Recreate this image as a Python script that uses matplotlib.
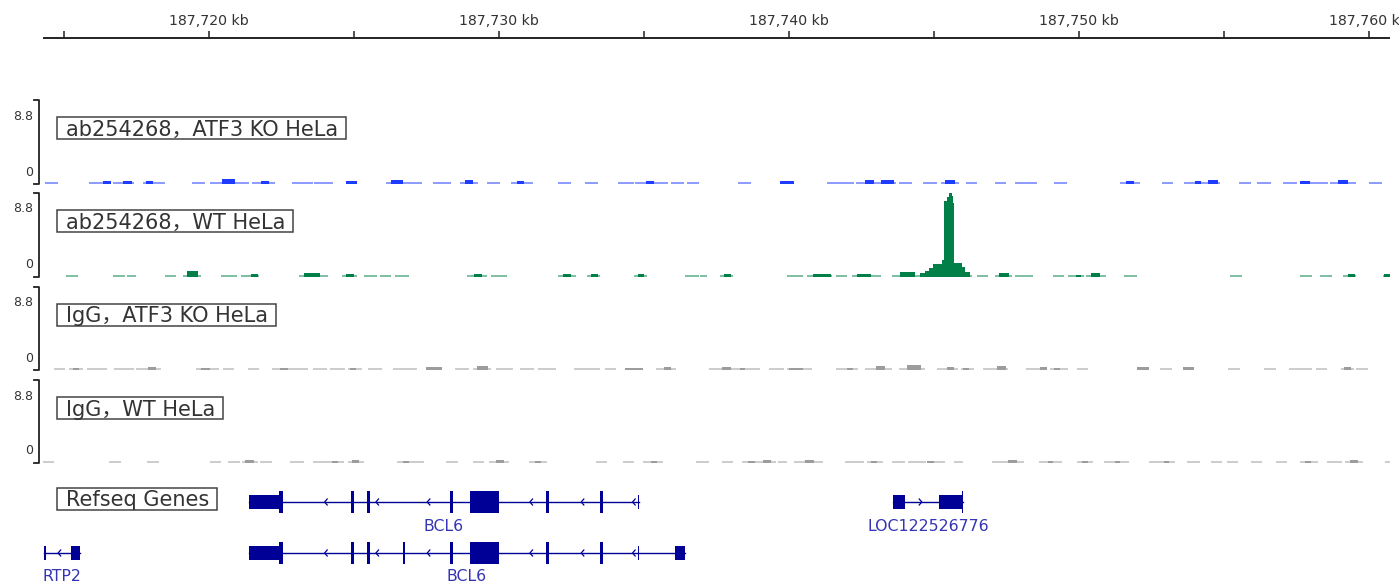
import numpy as np
import matplotlib
matplotlib.use("Agg")
import matplotlib.pyplot as plt
from matplotlib.patches import Rectangle

plt.rcParams['font.family'] = ['DejaVu Sans', 'Noto Sans CJK SC']

W, H = 1399, 587

# locus on screen, kb
VIEW_START, VIEW_END = 187714.29, 187760.74
TRACK_MAX = 8.8

track_names = ['ab254268，ATF3 KO HeLa', 'ab254268，WT HeLa',
               'IgG，ATF3 KO HeLa', 'IgG，WT HeLa']
track_colors = ['#1e3cff', '#008048', '#9c9c9c', '#9c9c9c']

# ---- coverage, (start kb, end kb) low level pieces and (start, end, value) bumps
ko_dash = [(187714.35, 187714.81), (187715.88, 187716.62), (187716.72, 187717.43),
           (187717.74, 187718.50), (187719.43, 187719.88), (187720.05, 187721.40),
           (187721.50, 187722.28), (187722.88, 187723.59), (187723.62, 187724.28),
           (187724.74, 187725.12), (187726.12, 187727.36), (187727.74, 187728.36),
           (187728.67, 187729.29), (187729.60, 187730.05), (187730.43, 187731.19),
           (187732.05, 187732.50), (187732.98, 187733.43), (187734.12, 187734.67),
           (187734.72, 187735.20), (187735.30, 187735.85), (187735.95, 187736.40),
           (187736.50, 187736.91), (187738.26, 187738.71), (187739.69, 187740.19),
           (187741.33, 187742.26), (187742.33, 187743.71), (187743.81, 187744.26),
           (187744.64, 187745.12), (187745.26, 187745.88), (187746.12, 187746.50),
           (187747.12, 187747.50), (187747.81, 187748.57), (187749.16, 187749.60),
           (187751.43, 187752.12), (187752.88, 187753.26), (187753.64, 187754.88),
           (187755.53, 187755.95), (187756.16, 187756.62), (187757.04, 187757.55),
           (187757.62, 187758.60), (187758.68, 187759.57), (187760.02, 187760.47)]
ko_bump = [(187716.35, 187716.65, 0.35), (187717.05, 187717.35, 0.3),
           (187717.85, 187718.10, 0.3), (187720.45, 187720.90, 0.55),
           (187721.80, 187722.10, 0.35), (187724.74, 187725.12, 0.3),
           (187726.30, 187726.70, 0.45), (187728.85, 187729.12, 0.4),
           (187730.62, 187730.86, 0.3), (187735.10, 187735.35, 0.3),
           (187739.69, 187740.19, 0.35), (187742.62, 187742.95, 0.4),
           (187743.20, 187743.62, 0.45), (187745.40, 187745.75, 0.45),
           (187751.65, 187751.90, 0.3), (187754.02, 187754.22, 0.3),
           (187754.48, 187754.80, 0.4), (187757.65, 187757.98, 0.35),
           (187758.95, 187759.30, 0.4)]

wt_dash = [(187715.09, 187715.50), (187716.69, 187717.12), (187717.19, 187717.50),
           (187718.50, 187718.88), (187719.12, 187719.74), (187720.43, 187720.98),
           (187721.12, 187721.74), (187723.12, 187724.12), (187724.59, 187725.12),
           (187725.36, 187725.81), (187725.90, 187726.28), (187726.43, 187726.90),
           (187728.90, 187729.59), (187729.74, 187730.29), (187732.05, 187732.67),
           (187733.05, 187733.50), (187734.67, 187735.12), (187736.43, 187736.91),
           (187736.95, 187737.19), (187737.64, 187738.10), (187739.95, 187740.50),
           (187740.64, 187741.50), (187741.64, 187742.02), (187742.19, 187743.19),
           (187743.57, 187744.53), (187746.26, 187746.33), (187746.50, 187746.88),
           (187747.12, 187747.72), (187747.81, 187748.42), (187749.11, 187749.50),
           (187749.64, 187750.19), (187750.26, 187750.95), (187751.57, 187752.03),
           (187755.22, 187755.62), (187757.64, 187758.04), (187758.34, 187758.73),
           (187759.12, 187759.57), (187760.50, 187760.78)]
wt_bump = [(187719.25, 187719.62, 0.6), (187721.45, 187721.70, 0.3),
           (187723.30, 187723.85, 0.4), (187724.75, 187725.00, 0.35),
           (187729.15, 187729.42, 0.35), (187732.22, 187732.50, 0.35),
           (187733.18, 187733.42, 0.3), (187734.80, 187735.02, 0.3),
           (187737.76, 187738.00, 0.35), (187740.85, 187741.45, 0.35),
           (187742.35, 187742.85, 0.35), (187743.85, 187744.35, 0.5),
           (187747.25, 187747.60, 0.45), (187749.90, 187750.10, 0.25),
           (187750.42, 187750.75, 0.4), (187759.28, 187759.52, 0.35),
           (187760.55, 187760.75, 0.3)]
# the ATF3 peak
wt_peak = [(187744.53, 187744.70, 0.4), (187744.70, 187744.86, 0.6),
           (187744.86, 187744.98, 0.9), (187744.98, 187745.28, 1.35),
           (187745.28, 187745.37, 1.75), (187745.37, 187745.47, 8.0),
           (187745.47, 187745.54, 8.4), (187745.54, 187745.62, 8.75),
           (187745.62, 187745.66, 8.5), (187745.66, 187745.71, 7.8),
           (187745.71, 187745.97, 1.45), (187745.97, 187746.09, 1.05),
           (187746.09, 187746.26, 0.5)]

igg_ko_dash = [(187714.66, 187715.04), (187715.19, 187715.66), (187715.81, 187716.50),
               (187716.74, 187717.43), (187717.50, 187718.35), (187719.58, 187720.36),
               (187720.50, 187720.88), (187721.36, 187721.74), (187722.19, 187723.43),
               (187723.59, 187724.10), (187724.20, 187724.70), (187724.80, 187725.28),
               (187725.50, 187725.97), (187726.36, 187727.19), (187727.50, 187728.05),
               (187728.50, 187728.98), (187729.12, 187729.74), (187729.90, 187730.50),
               (187730.74, 187731.21), (187731.36, 187731.98), (187732.59, 187733.50),
               (187733.67, 187734.05), (187734.36, 187734.98), (187735.43, 187736.12),
               (187737.26, 187737.75), (187737.85, 187738.40), (187738.50, 187739.02),
               (187739.33, 187739.85), (187739.95, 187740.80), (187741.64, 187742.41),
               (187742.64, 187743.57), (187743.80, 187744.72), (187745.11, 187745.85),
               (187745.95, 187746.41), (187746.72, 187747.57), (187748.19, 187748.90),
               (187749.00, 187749.64), (187749.95, 187750.33), (187752.03, 187752.42),
               (187752.81, 187753.22), (187753.60, 187753.98), (187755.16, 187755.57),
               (187756.40, 187756.81), (187757.26, 187758.04), (187758.19, 187758.57),
               (187759.04, 187759.50), (187759.57, 187759.98)]
igg_ko_bump = [(187715.33, 187715.53, 0.2), (187717.90, 187718.20, 0.3),
               (187719.75, 187720.05, 0.25), (187722.45, 187722.75, 0.2),
               (187724.87, 187725.07, 0.2), (187727.50, 187728.05, 0.3),
               (187729.25, 187729.62, 0.45), (187734.36, 187734.98, 0.25),
               (187735.70, 187735.95, 0.3), (187737.72, 187738.02, 0.3),
               (187738.31, 187738.51, 0.2), (187740.00, 187740.51, 0.2),
               (187742.00, 187742.22, 0.25), (187743.02, 187743.34, 0.45),
               (187744.10, 187744.58, 0.5), (187745.45, 187745.70, 0.3),
               (187746.01, 187746.21, 0.2), (187747.20, 187747.50, 0.4),
               (187748.68, 187748.92, 0.3), (187749.16, 187749.36, 0.25),
               (187752.03, 187752.42, 0.3), (187753.60, 187753.98, 0.3),
               (187759.15, 187759.39, 0.3)]

igg_wt_dash = [(187714.27, 187714.66), (187716.57, 187716.97), (187717.88, 187718.28),
               (187720.05, 187720.43), (187720.66, 187721.10), (187721.15, 187721.70),
               (187721.78, 187722.19), (187722.81, 187723.28), (187723.59, 187724.67),
               (187724.81, 187725.36), (187726.50, 187727.43), (187728.19, 187728.59),
               (187729.12, 187729.50), (187729.67, 187730.36), (187731.05, 187731.67),
               (187733.36, 187733.74), (187734.29, 187734.67), (187734.98, 187735.67),
               (187736.81, 187737.26), (187737.71, 187738.10), (187738.40, 187739.57),
               (187739.64, 187739.95), (187740.19, 187741.19), (187741.95, 187742.60),
               (187742.70, 187743.26), (187743.57, 187744.02), (187744.11, 187744.75),
               (187744.85, 187745.41), (187745.72, 187746.02), (187747.02, 187748.11),
               (187748.64, 187749.42), (187749.95, 187750.50), (187750.88, 187751.73),
               (187752.42, 187753.33), (187753.73, 187754.19), (187754.57, 187754.95),
               (187755.11, 187755.50), (187755.95, 187756.34), (187756.81, 187757.19),
               (187757.64, 187758.26), (187758.57, 187759.10), (187759.20, 187759.81),
               (187760.57, 187760.78)]
igg_wt_bump = [(187721.25, 187721.55, 0.35), (187724.24, 187724.48, 0.25),
               (187724.96, 187725.20, 0.3), (187726.71, 187726.91, 0.2),
               (187729.92, 187730.18, 0.3), (187731.26, 187731.46, 0.2),
               (187735.24, 187735.48, 0.25), (187738.60, 187738.84, 0.25),
               (187739.12, 187739.40, 0.35), (187740.58, 187740.86, 0.3),
               (187742.85, 187743.05, 0.2), (187744.76, 187745.00, 0.25),
               (187747.55, 187747.89, 0.35), (187748.93, 187749.13, 0.2),
               (187750.12, 187750.32, 0.25), (187751.24, 187751.44, 0.2),
               (187752.93, 187753.13, 0.2), (187757.81, 187758.01, 0.2),
               (187759.36, 187759.64, 0.3)]

track_dashes = [ko_dash, wt_dash, igg_ko_dash, igg_wt_dash]
track_bumps = [ko_bump, wt_bump + wt_peak, igg_ko_bump, igg_wt_bump]

# ---- Refseq genes (exons in kb, cds range or None)
bcl6_a_exons = [(187721.39, 187722.57), (187724.92, 187725.02), (187725.48, 187725.58),
                (187728.34, 187728.44), (187729.02, 187730.02), (187731.65, 187731.75),
                (187733.51, 187733.61), (187734.80, 187734.85)]
bcl6_a_cds = (187722.43, 187733.61)
bcl6_b_exons = [(187721.39, 187722.57), (187724.92, 187725.02), (187725.48, 187725.58),
                (187726.69, 187726.79), (187728.34, 187728.44), (187729.02, 187730.02),
                (187731.65, 187731.75), (187733.51, 187733.61), (187734.80, 187734.85),
                (187736.09, 187736.43)]
bcl6_b_cds = (187722.43, 187733.61)
rtp2_exons = [(187714.32, 187714.38), (187715.24, 187715.58)]
rtp2_cds = None
loc_exons = [(187743.60, 187744.00), (187745.19, 187746.02)]
loc_cds = (187745.97, 187746.02)

gene_names = ['BCL6', 'BCL6', 'RTP2', 'LOC122526776']
gene_exons = [bcl6_a_exons, bcl6_b_exons, rtp2_exons, loc_exons]
gene_cds = [bcl6_a_cds, bcl6_b_cds, rtp2_cds, loc_cds]
gene_strand = ['-', '-', '-', '+']
gene_row = [0, 1, 1, 0]

# ---- layout (pixels)
DATA_L, DATA_R = 43, 1390
TRACK_TOP = [100, 193, 287, 380]
TRACK_BOT = [184, 277, 370, 463]
TXT = '#333333'
GENE_COLOR = '#000096'
GENE_TEXT = '#3434b4'


def rect(x0, y0, x1, y1):
    return [x0 / W, 1 - y1 / H, (x1 - x0) / W, (y1 - y0) / H]


fig = plt.figure(figsize=(W / 100, H / 100), dpi=100)
ov = fig.add_axes([0, 0, 1, 1])
ov.set_xlim(0, W)
ov.set_ylim(H, 0)
ov.axis('off')

# ruler
ax_r = fig.add_axes(rect(DATA_L, 0, DATA_R, 45))
ax_r.set_xlim(VIEW_START, VIEW_END)
ax_r.set_ylim(45, 0)
ax_r.axis('off')
ax_r.set_facecolor('none')
ax_r.plot([VIEW_START, VIEW_END], [37.5, 37.5], color='#222222', lw=1.4,
          solid_capstyle='butt')
ticks = np.arange(187715, VIEW_END, 5)
ax_r.vlines(ticks, 31, 37.5, color='#222222', lw=1.1)
for t in ticks:
    if t % 10 == 0:
        ax_r.text(t, 21, f"{int(t):,} kb", ha='center', va='center',
                  fontsize=10.2, color=TXT)

# data tracks
labels = []
for i in range(4):
    ax = fig.add_axes(rect(DATA_L, TRACK_TOP[i], DATA_R, TRACK_BOT[i]))
    ax.set_xlim(VIEW_START, VIEW_END)
    ax.set_ylim(0, TRACK_MAX)
    ax.axis('off')
    ax.set_facecolor('none')
    d = np.array(track_dashes[i])
    ax.bar(d[:, 0], 0.19, width=d[:, 1] - d[:, 0], align='edge',
           color=track_colors[i], alpha=0.5, linewidth=0)
    b = np.array(track_bumps[i])
    ax.bar(b[:, 0], b[:, 2], width=b[:, 1] - b[:, 0], align='edge',
           color=track_colors[i], linewidth=0)

    top, bot = TRACK_TOP[i], TRACK_BOT[i]
    ov.plot([34, 38.5, 38.5, 34], [top, top, bot, bot], color='#222222', lw=1.3)
    ov.text(33, top + 16, f"{TRACK_MAX}", ha='right', va='center', fontsize=9,
            color=TXT)
    ov.text(33, bot - 12, "0", ha='right', va='center', fontsize=9, color=TXT)
    t = ov.text(65.5, top + 35.5, track_names[i], fontsize=15, color=TXT,
                va='baseline', ha='left')
    labels.append((t, top + 17))

# gene track
ax_g = fig.add_axes(rect(DATA_L, 470, DATA_R, H))
ax_g.set_xlim(VIEW_START, VIEW_END)
ax_g.set_ylim(H, 470)
ax_g.axis('off')
ax_g.set_facecolor('none')

row_y = [502, 553]
label_y = [526.5, 576.5]
UTR_H, CDS_H = 6.7, 11.3
ARROW_STEP, ARROW_PHASE = 1.77, 187724.0

for name, exons, cds, strand, row in zip(gene_names, gene_exons, gene_cds,
                                         gene_strand, gene_row):
    yc = row_y[row]
    g0, g1 = exons[0][0], exons[-1][1]
    ax_g.plot([g0, g1], [yc, yc], color=GENE_COLOR, lw=1.0)
    for s, e in exons:
        if cds is None or e <= cds[0] or s >= cds[1]:
            ax_g.add_patch(Rectangle((s, yc - UTR_H), e - s, 2 * UTR_H,
                                     color=GENE_COLOR, lw=0))
            continue
        cs, ce = max(s, cds[0]), min(e, cds[1])
        if s < cs:
            ax_g.add_patch(Rectangle((s, yc - UTR_H), cs - s, 2 * UTR_H,
                                     color=GENE_COLOR, lw=0))
        if ce < e:
            ax_g.add_patch(Rectangle((ce, yc - UTR_H), e - ce, 2 * UTR_H,
                                     color=GENE_COLOR, lw=0))
        ax_g.add_patch(Rectangle((cs, yc - CDS_H), max(ce - cs, 0.06), 2 * CDS_H,
                                 color=GENE_COLOR, lw=0))
    # strand chevrons along introns, on a fixed grid; short genes get one per intron
    introns = list(zip([e for _, e in exons[:-1]], [s for s, _ in exons[1:]]))
    pts = []
    for a, b_ in introns:
        k0 = np.ceil((a + 0.15 - ARROW_PHASE) / ARROW_STEP)
        k1 = np.floor((b_ - 0.15 - ARROW_PHASE) / ARROW_STEP)
        pts += list(np.arange(k0, k1 + 1) * ARROW_STEP + ARROW_PHASE)
    if not pts:
        pts = [(a + b_) / 2 for a, b_ in introns]
    dx = 0.09 if strand == '-' else -0.09
    for p in pts:
        ax_g.plot([p + dx, p, p + dx], [yc - 3, yc, yc + 3], color=GENE_COLOR, lw=0.9)
    ax_g.text((g0 + g1) / 2, label_y[row], name, ha='center', va='center',
              fontsize=11.3, color=GENE_TEXT)

t = ov.text(65.5, 488 + 18.5, 'Refseq Genes', fontsize=15, color=TXT,
            va='baseline', ha='left')
labels.append((t, 488))

# boxes around the track names, text clipped to the box like the browser does
fig.canvas.draw()
renderer = fig.canvas.get_renderer()
for t, y_top in labels:
    bb = t.get_window_extent(renderer)
    box = Rectangle((57, y_top), bb.x1 + 8 - 57, 22, fill=False, ec='#444444', lw=1.1)
    ov.add_patch(box)
    t.set_clip_path(box)

fig.savefig('out.png', dpi=100)
